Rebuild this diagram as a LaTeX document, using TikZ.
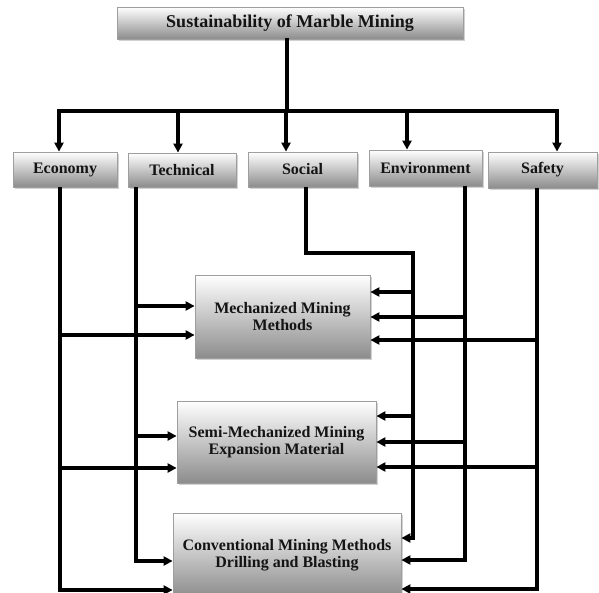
\documentclass[tikz,border=0pt]{standalone}
\usepackage{fontspec}
\setmainfont{Liberation Serif}
\usetikzlibrary{arrows.meta,shadows}
\tikzset{
  box/.style={draw=black!38, line width=0.8pt, top color=white, bottom color=black!45,
    drop shadow={shadow xshift=2pt, shadow yshift=-2pt, fill=black!35, opacity=0.5},
    font=\fontsize{16}{17}\selectfont\bfseries, text=black!92, align=center, inner sep=0pt},
  wire/.style={line width=3.2pt, line cap=rect},
  link/.style={line width=3.2pt, -{Triangle[length=9pt,width=9pt]}}
}
\begin{document}
\begin{tikzpicture}[x=1pt,y=-1pt]
  \useasboundingbox (0,0) rectangle (599,593);
  % boxes
  \node[box, minimum width=346pt, minimum height=32pt, font=\fontsize{18}{20}\selectfont\bfseries] (title) at (290,23) {Sustainability of Marble Mining};
  \node[box, minimum width=104pt, minimum height=35pt] (eco) at (65,169.5) {Economy};
  \node[box, minimum width=108pt, minimum height=34pt] (tech) at (182,170) {Technical};
  \node[box, minimum width=109pt, minimum height=35pt] (soc) at (302.5,169.5) {Social};
  \node[box, minimum width=113pt, minimum height=36pt] (env) at (425.5,168) {Environment};
  \node[box, minimum width=109pt, minimum height=36pt] (saf) at (542.5,170) {Safety};
  \node[box, minimum width=175pt, minimum height=83pt] (mech) at (282.5,316.5) {Mechanized Mining\\Methods};
  \node[box, minimum width=199pt, minimum height=82pt] (semi) at (276.5,442) {Semi-Mechanized Mining\\Expansion Material};
  \node[box, minimum width=228pt, minimum height=84pt] (conv) at (287,555) {Conventional Mining Methods\\Drilling and Blasting};
  % top bus
  \coordinate (bus) at (287,111);
  \coordinate (busL) at (59,111);
  \coordinate (busR) at (557,111);
  \draw[wire] (title.south -| bus) -- (bus);
  \draw[wire] (busL) -- (busR);
  \foreach \x/\n in {59/eco, 178/tech, 286/soc, 407/env, 557/saf} {
    \coordinate (d) at (\x,111);
    \draw[link] (d) -- (d |- \n.north);
  }
  % trunks down to the conventional box
  \coordinate (e3) at (60,590);
  \coordinate (t3) at (136,561);
  \coordinate (s0) at (306,253);
  \coordinate (s3) at (413,538);
  \coordinate (v3) at (465,560);
  \coordinate (f3) at (537,589);
  \draw[link] (eco.south -| e3) |- (e3 -| conv.west);
  \draw[link] (tech.south -| t3) |- (t3 -| conv.west);
  \draw[link] (soc.south -| s0) -- (s0) -| (s3) -- (s3 -| conv.east);
  \draw[link] (env.south -| v3) |- (v3 -| conv.east);
  \draw[link] (saf.south -| f3) |- (f3 -| conv.east);
  % branches
  \foreach \x/\y/\n [count=\i] in {60/335/mech, 60/468/semi, 136/306/mech, 136/436/semi} {
    \coordinate (l\i) at (\x,\y);
    \draw[link] (l\i) -- (l\i -| \n.west);
  }
  \foreach \x/\y/\n [count=\i] in {413/292/mech, 413/416/semi, 465/317/mech, 465/442/semi, 537/340/mech, 537/467/semi} {
    \coordinate (r\i) at (\x,\y);
    \draw[link] (r\i) -- (r\i -| \n.east);
  }
\end{tikzpicture}
\end{document}
